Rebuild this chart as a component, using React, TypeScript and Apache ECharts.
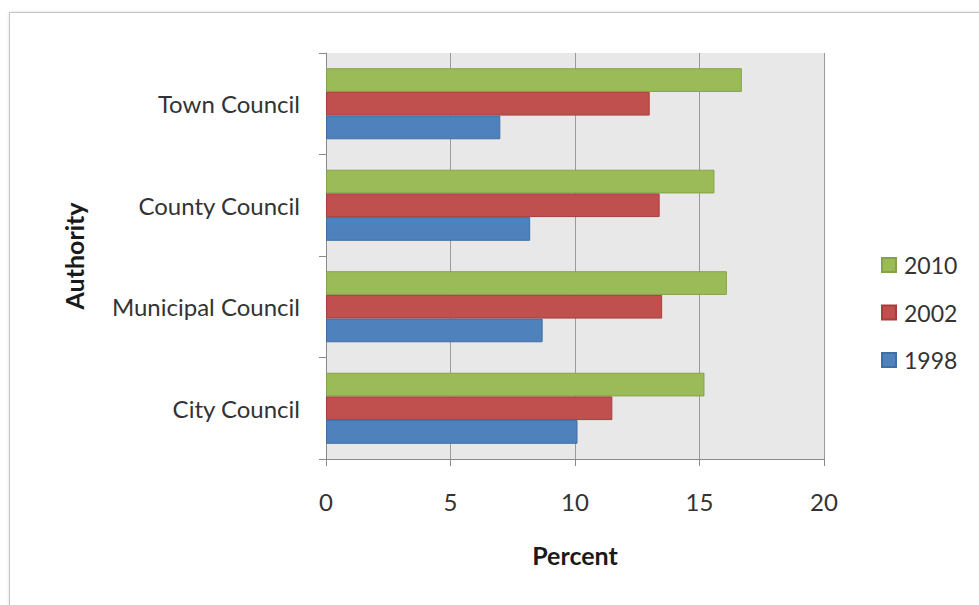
import React, { useEffect, useRef } from "react";
import * as echarts from "echarts";

// Share of representatives by authority type, per survey year
const authorities = ["City Council", "Municipal Council", "County Council", "Town Council"];
const years = ["2010", "2002", "1998"];
const values2010 = [15.2, 16.1, 15.6, 16.7];
const values2002 = [11.5, 13.5, 13.4, 13.0];
const values1998 = [10.1, 8.7, 8.2, 7.0];
const percentTicks = { min: 0, max: 20, interval: 5 };

const colors: Record<string, { fill: string; border: string }> = {
  "1998": { fill: "#4F81BD", border: "#3F6EA5" },
  "2002": { fill: "#C0504D", border: "#A3403D" },
  "2010": { fill: "#9BBB59", border: "#84A348" },
};

const FONT = "Lato, 'Liberation Sans', sans-serif";

export default function App() {
  const ref = useRef<HTMLDivElement>(null);

  useEffect(() => {
    if (!ref.current) return;
    const chart = echarts.init(ref.current, undefined, { renderer: "svg" });
    const seriesValues = [values2010, values2002, values1998];

    chart.setOption({
      animation: false,
      backgroundColor: "#ffffff",
      textStyle: { fontFamily: FONT },
      graphic: [
        {
          type: "rect",
          shape: { x: 9.5, y: 12.5, width: 1100, height: 800 },
          style: {
            fill: "#ffffff",
            stroke: "#c4c4c4",
            lineWidth: 1,
            shadowBlur: 4,
            shadowOffsetX: 1,
            shadowOffsetY: 1,
            shadowColor: "rgba(0,0,0,0.18)",
          },
          z: -10,
          silent: true,
        },
      ],
      grid: { left: 326, right: 155, top: 53, bottom: 146, containLabel: false,
        show: true, backgroundColor: "#E8E8E8", borderWidth: 0 },
      legend: {
        orient: "vertical",
        left: 881,
        top: 253,
        padding: 0,
        data: ["2010", "2002", "1998"],
        itemWidth: 14,
        itemHeight: 14,
        itemGap: 23.5,
        icon: "rect",
        textStyle: { fontFamily: FONT, fontSize: 23, color: "#333333", lineHeight: 24, padding: [0, 0, 0, 3] },
      },
      xAxis: {
        type: "value",
        min: percentTicks.min,
        max: percentTicks.max,
        interval: percentTicks.interval,
        name: "Percent",
        nameLocation: "middle",
        nameGap: 83,
        nameTextStyle: { fontFamily: FONT, fontSize: 25, fontWeight: "bold", color: "#1a1a1a" },
        axisLine: { show: true, lineStyle: { color: "#8a8a8a", width: 1 } },
        axisTick: { show: true, length: 7, lineStyle: { color: "#8a8a8a" } },
        axisLabel: { fontFamily: FONT, fontSize: 24, color: "#333333", margin: 30 },
        splitLine: { show: true, lineStyle: { color: "#9a9a9a", width: 1 } },
      },
      yAxis: {
        type: "category",
        data: authorities,
        name: "Authority",
        nameLocation: "middle",
        nameGap: 240,
        nameRotate: 90,
        nameTextStyle: { fontFamily: FONT, fontSize: 25, fontWeight: "bold", color: "#1a1a1a" },
        axisLine: { show: true, lineStyle: { color: "#8a8a8a", width: 1 } },
        axisTick: { show: true, length: 7, lineStyle: { color: "#8a8a8a" } },
        axisLabel: { fontFamily: FONT, fontSize: 24, color: "#333333", margin: 26 },
        splitLine: { show: false },
      },
      series: years.map((y, i) => ({
        name: y,
        type: "bar",
        data: seriesValues[i],
        barGap: "0%",
        barCategoryGap: "30%",
        itemStyle: { color: colors[y].fill, borderColor: colors[y].border, borderWidth: 1 },
      })),
    });

    return () => chart.dispose();
  }, []);

  return (
    <div
      ref={ref}
      style={{ position: "fixed", left: 0, top: 0, width: 979, height: 605 }}
    />
  );
}
